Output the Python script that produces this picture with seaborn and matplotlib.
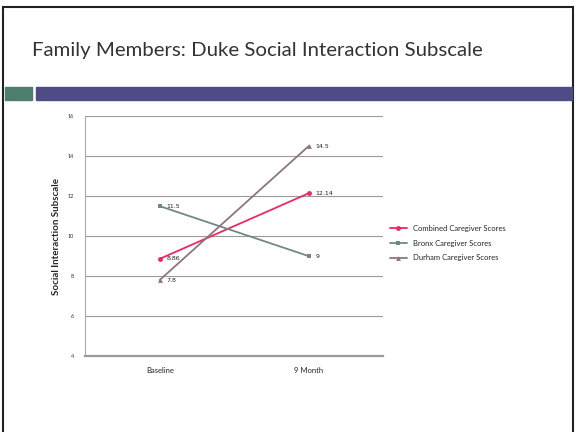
import matplotlib
matplotlib.use("Agg")
import matplotlib.pyplot as plt
import matplotlib.patches as mpatches
import pandas as pd
import seaborn as sns

time_points = ["Baseline", "9 Month"]
series_names = ["Combined Caregiver Scores", "Bronx Caregiver Scores", "Durham Caregiver Scores"]
combined = [8.86, 12.14]
bronx = [11.5, 9]
durham = [7.8, 14.5]
label_text = {
    "Combined Caregiver Scores": ["8.86", "12.14"],
    "Bronx Caregiver Scores": ["11.5", "9"],
    "Durham Caregiver Scores": ["7.8", "14.5"],
}
y_ticks = [4, 6, 8, 10, 12, 14, 16]

df = pd.DataFrame({
    "time": time_points * 3,
    "score": combined + bronx + durham,
    "series": [series_names[0]] * 2 + [series_names[1]] * 2 + [series_names[2]] * 2,
})

colors = {series_names[0]: "#EC2A5C", series_names[1]: "#6E8A86", series_names[2]: "#8E7482"}
markers = {series_names[0]: "o", series_names[1]: "s", series_names[2]: "^"}

sns.set_style("white")
plt.rcParams["font.family"] = ["Lato", "DejaVu Sans"]

fig = plt.figure(figsize=(5.76, 4.32), dpi=100)

# slide frame and header bar
fig.patches.append(mpatches.Rectangle((0.006, -0.05), 0.989, 1.033, transform=fig.transFigure,
                                      fill=False, edgecolor="#222222", linewidth=1.5))
fig.patches.append(mpatches.Rectangle((0.008, 0.769), 0.048, 0.03, transform=fig.transFigure,
                                      color="#4E7E6E"))
fig.patches.append(mpatches.Rectangle((0.063, 0.769), 0.93, 0.03, transform=fig.transFigure,
                                      color="#4F4B86"))
fig.text(0.055, 0.882, "Family Members: Duke Social Interaction Subscale", fontsize=14.7,
         color="#333333", va="center", ha="left")

ax = fig.add_axes([0.148, 0.176, 0.517, 0.555])
sns.lineplot(data=df, x="time", y="score", hue="series", style="series",
             palette=colors, markers=markers, dashes=False, markersize=3.5,
             markeredgewidth=0, linewidth=1.3, ax=ax, legend=True)

for name in series_names:
    vals = df[df["series"] == name]["score"].tolist()
    for i, v in enumerate(vals):
        ax.annotate(label_text[name][i], (i, v), xytext=(5, 0), textcoords="offset points",
                    fontsize=4.5, va="center", color="#222222", family="DejaVu Sans")

ax.set_xlim(-0.5, 1.5)
ax.set_ylim(4, 16)
ax.set_yticks(y_ticks)
ax.set_yticklabels([str(t) for t in y_ticks], fontsize=4)
ax.tick_params(axis="x", labelsize=5.5, length=0, pad=8)
ax.tick_params(axis="y", length=0, pad=8)
ax.yaxis.grid(True, color="#9a9a9a", linewidth=0.8)
ax.set_xlabel("")
ax.set_ylabel("Social Interaction Subscale", fontsize=7, fontweight="bold", labelpad=5)
for s in ["top", "right"]:
    ax.spines[s].set_visible(False)
ax.spines["left"].set_color("#aaaaaa")
ax.spines["left"].set_linewidth(0.8)
ax.spines["bottom"].set_color("#999999")
ax.spines["bottom"].set_linewidth(1.6)

leg = ax.legend(loc="center left", bbox_to_anchor=(1.0, 0.47), frameon=False, fontsize=5.5,
                handlelength=2.2, labelspacing=1.0)

fig.savefig("out.png", dpi=100)
